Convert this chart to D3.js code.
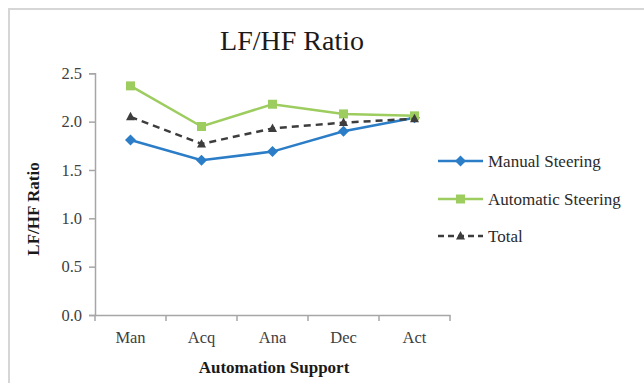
<!DOCTYPE html>
<html><head><meta charset="utf-8">
<script src="https://cdn.jsdelivr.net/npm/d3@7/dist/d3.min.js"></script>
<style>
html,body{margin:0;padding:0;background:#fff;}
svg{display:block;}
text{font-family:"Liberation Serif","Times New Roman",serif;}
</style></head>
<body>
<svg id="chart" width="644" height="383"></svg>
<script>
const categories = ["Man", "Acq", "Ana", "Dec", "Act"];
const manualSteering = [1.81, 1.60, 1.69, 1.90, 2.04];
const automaticSteering = [2.37, 1.95, 2.18, 2.08, 2.06];
const totalValues = [2.05, 1.77, 1.93, 1.99, 2.03];
const yTicks = [0, 0.5, 1.0, 1.5, 2.0, 2.5];
const seriesNames = ["Manual Steering", "Automatic Steering", "Total"];

const svg = d3.select("#chart");
// outer frame
svg.append("rect").attr("x", 9).attr("y", 9).attr("width", 700).attr("height", 400)
  .attr("fill", "none").attr("stroke", "#d6d6d6").attr("stroke-width", 2);

const x = d3.scaleBand().domain(categories).range([95, 450]);
const y = d3.scaleLinear().domain([0, 2.5]).range([315, 73.3]);
const axisColor = "#a6a6a6";

// y axis
const yAxis = svg.append("g").attr("transform", "translate(95,0)")
  .call(d3.axisLeft(y).tickValues(yTicks).tickFormat(d3.format(".1f")).tickSize(6).tickPadding(7));
yAxis.select(".domain").attr("stroke", axisColor).attr("stroke-width", 1.5);
yAxis.selectAll(".tick line").attr("stroke", axisColor).attr("stroke-width", 1.5);
yAxis.selectAll(".tick text").attr("font-size", 16.5).attr("fill", "#404040")
  .style("font-family", "'Liberation Serif',serif");

// x axis
const xAxis = svg.append("g").attr("transform", "translate(0,315)")
  .call(d3.axisBottom(x).tickSize(0).tickPadding(16));
xAxis.select(".domain").attr("stroke", axisColor).attr("stroke-width", 1.5);
xAxis.selectAll(".tick text").attr("font-size", 16.5).attr("fill", "#404040")
  .style("font-family", "'Liberation Serif',serif");
// category boundary ticks
const bounds = categories.map(c => x(c)).concat([x.range()[1]]);
svg.append("g").selectAll("line").data(bounds).join("line")
  .attr("x1", d => d).attr("x2", d => d).attr("y1", 315).attr("y2", 321)
  .attr("stroke", axisColor).attr("stroke-width", 1.5);

const cx = c => x(c) + x.bandwidth() / 2;
const line = d3.line().x((d, i) => cx(categories[i])).y(d => y(d));

const series = [
  {name: seriesNames[0], values: manualSteering, color: "#2a7dc6", dash: null, marker: "diamond"},
  {name: seriesNames[1], values: automaticSteering, color: "#9dcc5f", dash: null, marker: "square"},
  {name: seriesNames[2], values: totalValues, color: "#3d3d3d", dash: "7,5", marker: "triangle"}
];

function markerPath(type) {
  if (type === "diamond") return "M0,-5.5L5.5,0L0,5.5L-5.5,0Z";
  if (type === "square") return "M-4.5,-4.5H4.5V4.5H-4.5Z";
  return "M0,-5L4.5,3.5H-4.5Z";
}

series.forEach(s => {
  svg.append("path").datum(s.values).attr("d", line)
    .attr("fill", "none").attr("stroke", s.color).attr("stroke-width", 2.5)
    .attr("stroke-dasharray", s.dash);
  svg.append("g").selectAll("path").data(s.values).join("path")
    .attr("d", markerPath(s.marker))
    .attr("transform", (d, i) => `translate(${cx(categories[i])},${y(d)})`)
    .attr("fill", s.color);
});

// title
svg.append("text").attr("x", 292).attr("y", 50).attr("text-anchor", "middle")
  .attr("font-size", 28).attr("fill", "#1a1a1a").text("LF/HF Ratio");

// axis titles
svg.append("text").attr("transform", "translate(39,209) rotate(-90)").attr("text-anchor", "middle")
  .attr("font-size", 17).attr("font-weight", "bold").attr("fill", "#1a1a1a").text("LF/HF Ratio");
svg.append("text").attr("x", 274).attr("y", 373).attr("text-anchor", "middle")
  .attr("font-size", 17).attr("font-weight", "bold").attr("fill", "#1a1a1a").text("Automation Support");

// legend
const legendY = [161, 199, 236];
series.forEach((s, i) => {
  const g = svg.append("g").attr("transform", `translate(438,${legendY[i]})`);
  g.append("line").attr("x1", 0).attr("x2", 45).attr("y1", 0).attr("y2", 0)
    .attr("stroke", s.color).attr("stroke-width", 2.5).attr("stroke-dasharray", s.dash ? "6,4" : null);
  g.append("path").attr("d", markerPath(s.marker)).attr("transform", "translate(22.5,0)").attr("fill", s.color);
  g.append("text").attr("x", 50).attr("y", 5.5).attr("font-size", 17).attr("fill", "#2a2a2a").text(s.name);
});
</script>
</body></html>
